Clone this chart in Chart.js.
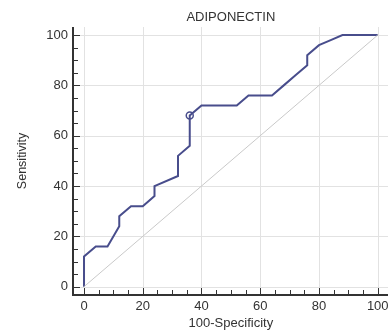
<!DOCTYPE html>
<html>
<head>
<meta charset="utf-8">
<script src="https://cdn.jsdelivr.net/npm/chart.js@4"></script>
<style>
  html, body { margin:0; padding:0; background:#fff; overflow:hidden; }
  #wrap { width:388px; height:331px; position:relative; }
</style>
</head>
<body>
<div id="wrap"><canvas id="roc"></canvas></div>
<script>
// ROC curve
const fprValues = [0, 0, 4, 8, 12, 12, 16, 20, 24, 24, 32, 32, 36, 36, 40, 52, 56, 64, 68, 72, 76, 76, 80, 84, 88, 100];
const tprValues = [0, 12, 16, 16, 24, 28, 32, 32, 36, 40, 44, 52, 56, 68, 72, 72, 76, 76, 80, 84, 88, 92, 96, 98, 100, 100];
const cutoffPoint = [36, 68];
const tickValues = [0, 20, 40, 60, 80, 100];
const minorStep = 5;
const chartTitle = 'ADIPONECTIN';
const xTitle = '100-Specificity';
const yTitle = 'Sensitivity';

const curve = fprValues.map((x, i) => ({ x, y: tprValues[i] }));

const FONT = '"Liberation Sans", Arial, sans-serif';

// axes, ticks, grid and labels drawn by hand to get the offset-axis look
const axesPlugin = {
  id: 'offsetAxes',
  beforeDatasetsDraw(chart) {
    const { ctx, chartArea: a, scales: { x, y } } = chart;
    ctx.save();
    ctx.strokeStyle = '#e2e2e2';
    ctx.lineWidth = 1;
    tickValues.forEach(v => {
      const px = Math.round(x.getPixelForValue(v)) + 0.5;
      ctx.beginPath(); ctx.moveTo(px, a.top); ctx.lineTo(px, a.bottom); ctx.stroke();
      const py = Math.round(y.getPixelForValue(v)) + 0.5;
      ctx.beginPath(); ctx.moveTo(a.left, py); ctx.lineTo(a.right, py); ctx.stroke();
    });
    ctx.restore();
  },
  afterDraw(chart) {
    const { ctx, chartArea: a, scales: { x, y } } = chart;
    ctx.save();
    ctx.strokeStyle = '#333';
    ctx.lineWidth = 2;
    ctx.beginPath();
    ctx.moveTo(a.left, a.top);
    ctx.lineTo(a.left, a.bottom);
    ctx.lineTo(a.right, a.bottom);
    ctx.stroke();

    ctx.lineWidth = 1;
    for (let v = 0; v <= 100; v += minorStep) {
      const len = v % 20 === 0 ? 7 : 5;
      const py = Math.round(y.getPixelForValue(v)) + 0.5;
      ctx.beginPath(); ctx.moveTo(a.left, py); ctx.lineTo(a.left + len, py); ctx.stroke();
      const px = Math.round(x.getPixelForValue(v)) + 0.5;
      ctx.beginPath(); ctx.moveTo(px, a.bottom); ctx.lineTo(px, a.bottom - len); ctx.stroke();
    }

    ctx.fillStyle = '#333';
    ctx.font = '13px ' + FONT;
    ctx.textAlign = 'right';
    ctx.textBaseline = 'middle';
    tickValues.forEach(v => ctx.fillText(String(v), a.left - 5, y.getPixelForValue(v)));
    ctx.textAlign = 'center';
    ctx.textBaseline = 'middle';
    tickValues.forEach(v => ctx.fillText(String(v), x.getPixelForValue(v), a.bottom + 11));

    ctx.font = '13px ' + FONT;
    const mid = (x.getPixelForValue(0) + x.getPixelForValue(100)) / 2;
    ctx.fillText(xTitle, mid, 323);
    ctx.fillText(chartTitle, mid, 17);
    ctx.font = '12.5px ' + FONT;
    ctx.translate(23, (a.top + a.bottom) / 2);
    ctx.rotate(-Math.PI / 2);
    ctx.fillText(yTitle, 0, 0);
    ctx.restore();
  }
};

new Chart(document.getElementById('roc'), {
  type: 'scatter',
  data: {
    datasets: [
      {
        data: [{ x: 0, y: 0 }, { x: 100, y: 100 }],
        showLine: true,
        borderColor: '#c9c9c9',
        borderWidth: 1,
        pointRadius: 0
      },
      {
        data: curve,
        showLine: true,
        borderColor: '#484d8c',
        borderWidth: 2,
        pointRadius: 0,
        tension: 0
      },
      {
        data: [{ x: cutoffPoint[0], y: cutoffPoint[1] }],
        pointRadius: 3.5,
        pointBackgroundColor: '#fff',
        pointBorderColor: '#484d8c',
        pointBorderWidth: 1.5
      }
    ]
  },
  options: {
    responsive: true,
    maintainAspectRatio: false,
    animation: false,
    layout: { autoPadding: false, padding: { left: 73, right: 0, top: 27, bottom: 36 } },
    scales: {
      x: { type: 'linear', display: false, min: -3.75, max: 103.5 },
      y: { type: 'linear', display: false, min: -3.3, max: 103.2 }
    },
    plugins: {
      legend: { display: false },
      tooltip: { enabled: false }
    }
  },
  plugins: [axesPlugin]
});
</script>
</body>
</html>
